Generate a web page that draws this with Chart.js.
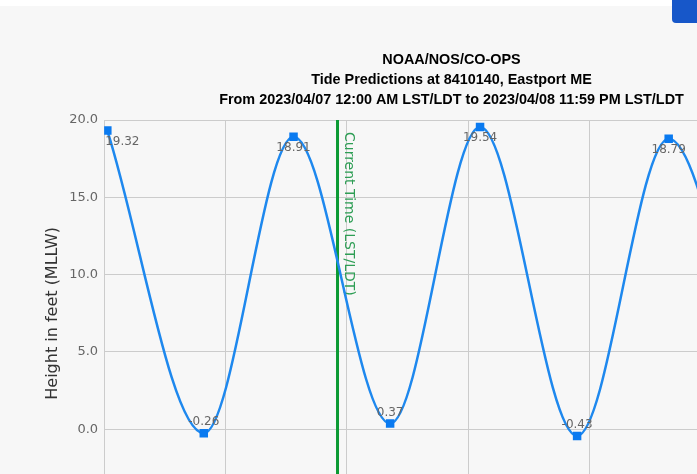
<!DOCTYPE html>
<html>
<head>
<meta charset="utf-8">
<title>Tide Predictions at 8410140, Eastport ME</title>
<script src="https://cdn.jsdelivr.net/npm/chart.js@4.4.0/dist/chart.umd.min.js"></script>
<style>
    html, body { margin: 0; padding: 0; background: #f7f7f7; overflow: hidden; }
    #topbar { position: absolute; left: 0; top: 0; width: 697px; height: 6px; background: #ffffff; }
    #btn { position: absolute; left: 672px; top: 0; width: 40px; height: 23px; background: #1757c9; border-radius: 0 0 0 4px; }
    #wrap { position: absolute; left: 0; top: 0; width: 914px; height: 540px; }
</style>
</head>
<body>
<div id="wrap"><canvas id="tideChart"></canvas></div>
<div id="topbar"></div>
<div id="btn"></div>
<script>
// hours since 2023/04/07 00:00 LST/LDT
const hiloHours = [0.21, 6.57, 12.49, 18.86, 24.79, 31.19, 37.23];
const hiloValues = [19.32, -0.26, 18.91, 0.37, 19.54, -0.43, 18.79];
// rest of the curve, past the right edge of the picture (estimated)
const tailHours = [44.6, 48];
const tailValues = [-0.2, 10.5];
const xTickLabels = ['04/07 12am', '04/07 8am', '04/07 4pm', '04/08 12am', '04/08 8am', '04/08 4pm', '04/08 11:59pm'];
const currentTimeHour = 15.39;

const lineColor = '#1e88ee';
const markColor = '#0a7af0';
const gridColor = '#cccccc';
const labelFont = '"DejaVu Sans", Verdana, sans-serif';

const hiloPoints = hiloHours.map((h, i) => ({ x: h, y: hiloValues[i] }));
const curvePoints = hiloPoints.concat(tailHours.map((h, i) => ({ x: h, y: tailValues[i] })));

// hi/lo value labels next to the square markers
const hiloLabels = {
    id: 'hiloLabels',
    afterDatasetsDraw(chart) {
        const ctx = chart.ctx;
        const area = chart.chartArea;
        const meta = chart.getDatasetMeta(0);
        ctx.save();
        ctx.font = '12px ' + labelFont;
        ctx.fillStyle = '#666666';
        ctx.textAlign = 'center';
        ctx.textBaseline = 'middle';
        meta.data.forEach(function(pt, i) {
            const txt = hiloValues[i].toFixed(2);
            const w = ctx.measureText(txt).width;
            let x = pt.x;
            if (x - w / 2 < area.left + 1) x = area.left + 1 + w / 2;
            const y = hiloValues[i] > 10 ? pt.y + 11 : pt.y - 11;
            ctx.fillText(txt, x, y);
        });
        ctx.restore();
    }
};

// green "current time" plot line
const currentTimeLine = {
    id: 'currentTimeLine',
    beforeDatasetsDraw(chart) {
        const ctx = chart.ctx;
        const area = chart.chartArea;
        const x = chart.scales.x.getPixelForValue(currentTimeHour);
        ctx.save();
        ctx.strokeStyle = '#0c9a33';
        ctx.lineWidth = 3;
        ctx.beginPath();
        ctx.moveTo(x, area.top);
        ctx.lineTo(x, area.bottom);
        ctx.stroke();
        ctx.translate(x + 11, area.top + 12);
        ctx.rotate(Math.PI / 2);
        ctx.font = '14px ' + labelFont;
        ctx.fillStyle = '#2e9e55';
        ctx.textAlign = 'left';
        ctx.textBaseline = 'middle';
        ctx.fillText('Current Time (LST/LDT)', 0, 0);
        ctx.restore();
    }
};

new Chart(document.getElementById('tideChart'), {
    type: 'line',
    data: {
        datasets: [
            {
                label: 'Hi/Lo',
                data: hiloPoints,
                showLine: false,
                pointStyle: 'rect',
                pointRadius: 6,
                pointBorderWidth: 0,
                pointBackgroundColor: markColor,
                pointBorderColor: markColor,
                order: 0
            },
            {
                label: 'Predictions',
                data: curvePoints,
                borderColor: lineColor,
                borderWidth: 2.5,
                cubicInterpolationMode: 'monotone',
                pointRadius: 0,
                fill: false,
                order: 1
            }
        ]
    },
    options: {
        responsive: true,
        maintainAspectRatio: false,
        animation: false,
        events: [],
        layout: {
            padding: { left: 43, right: 54, bottom: 7 }
        },
        plugins: {
            legend: { display: false },
            tooltip: { enabled: false },
            title: {
                display: true,
                text: [
                    'NOAA/NOS/CO-OPS',
                    'Tide Predictions at 8410140, Eastport ME',
                    'From 2023/04/07 12:00 AM LST/LDT to 2023/04/08 11:59 PM LST/LDT'
                ],
                color: '#000000',
                font: { family: '"Liberation Sans", Arial', size: 14.4, weight: 'bold', lineHeight: '20px' },
                padding: { top: 50, bottom: 10 }
            }
        },
        scales: {
            x: {
                type: 'linear',
                min: 0,
                max: 48,
                grid: { color: gridColor, drawTicks: false },
                border: { display: false },
                ticks: {
                    stepSize: 8,
                    padding: 6,
                    maxRotation: 0,
                    autoSkip: false,
                    color: '#666666',
                    font: { family: labelFont, size: 12 },
                    callback: function(value) {
                        return xTickLabels[value / 8];
                    }
                }
            },
            y: {
                min: -5,
                max: 20,
                grid: { color: gridColor, drawTicks: false },
                border: { color: gridColor },
                ticks: {
                    stepSize: 5,
                    padding: 6,
                    color: '#666666',
                    font: { family: labelFont, size: 13 },
                    callback: function(value) {
                        return value.toFixed(1);
                    }
                },
                title: {
                    display: true,
                    text: 'Height in feet (MLLW)',
                    color: '#333333',
                    font: { family: labelFont, size: 16 },
                    padding: { top: 0, bottom: 1 }
                }
            },
            // empty right margin inside the layout, so the title sits centred like the original
            yRight: {
                position: 'right',
                display: true,
                grid: { display: false },
                border: { display: false },
                ticks: { display: false },
                afterFit: function(scale) {
                    scale.width = 28;
                }
            }
        }
    },
    plugins: [hiloLabels, currentTimeLine]
});
</script>
</body>
</html>
